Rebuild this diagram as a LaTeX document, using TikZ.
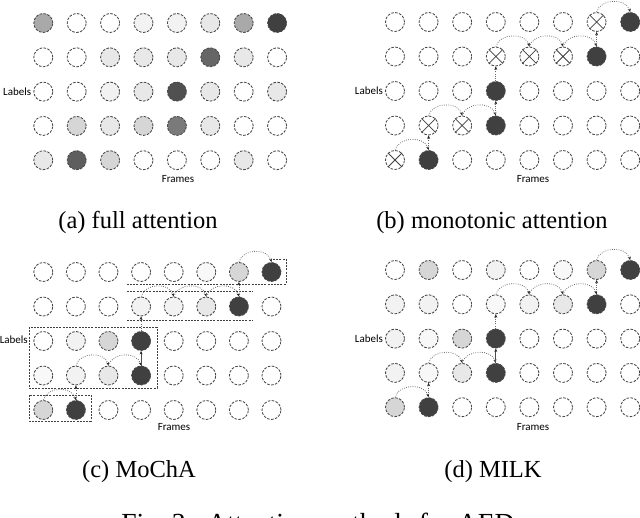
\documentclass[tikz,border=0pt]{standalone}
\usepackage{fontspec}
\setmainfont{Liberation Serif}
\newfontfamily\labfont{Carlito}
\usetikzlibrary{arrows.meta,fit}
\definecolor{gw}{HTML}{FFFFFF}
\definecolor{g0}{HTML}{F8F8F8}
\definecolor{g1}{HTML}{F2F2F2}
\definecolor{g2}{HTML}{E8E8E8}
\definecolor{g3}{HTML}{D6D6D6}
\definecolor{g4}{HTML}{A9A9A9}
\definecolor{g5}{HTML}{7A7A7A}
\definecolor{d1}{HTML}{505050}
\definecolor{d2}{HTML}{666666}
\definecolor{d3}{HTML}{5E5E5E}
\definecolor{gk}{HTML}{404040}
\newcommand\myarc[2]{\draw[arr] (#1.north) .. controls +(4,-14) and +(-4,-14) .. (#2.north);}
\newcommand\myup[2]{\draw[arr] (#1.north) -- (#2.south);}
\begin{document}
\begin{tikzpicture}[x=1pt,y=-1pt,
  cir/.style={circle,draw=black!72,line width=0.85pt,dash pattern=on 2.6pt off 1.4pt,minimum size=19pt,inner sep=0pt},
  arr/.style={draw=black!60,line width=0.75pt,dash pattern=on 0.8pt off 1.4pt,-{Stealth[length=3.5pt,width=3pt,black!85]}},
  sarr/.style={draw=black!70,line width=0.8pt,-{Stealth[length=3.5pt,width=3pt,black!85]}},
  xl/.style={draw=black!75,line width=0.75pt},
  box/.style={draw=black!75,line width=0.75pt,dash pattern=on 2pt off 1.2pt},
  lab/.style={font={\labfont\fontsize{11}{13}\selectfont},inner sep=0pt},
  captxt/.style={font={\fontsize{24.5}{28}\selectfont},inner sep=0pt},
  figtxt/.style={font={\fontsize{27.6}{32}\selectfont},inner sep=0pt}]
\useasboundingbox (0,0) rectangle (640,518);
\clip (0,0) rectangle (640,518);

% (a) full attention
\foreach \row [count=\r] in {{g4,gw,gw,g1,g1,g2,g4,gk},{gw,gw,g2,g2,g2,d2,g2,gw},{gw,gw,g1,g2,d1,g2,gw,g2},{gw,g3,g2,g3,g5,g2,gw,gw},{g2,d3,g3,gw,gw,gw,g2,gw}}{
  \foreach \f [count=\i] in \row {
    \node[cir,fill=\f] (a-\r-\i) at ({43.3+33.4*(\i-1)},{23+34.3*(\r-1)}) {};
  }
}
\node[lab,anchor=east] (la) at ([xshift=-2pt]a-3-1.west) {Labels};
\node[lab] (fa) at (178,179) {Frames};

% (b) monotonic attention
\foreach \row [count=\r] in {{gw,gw,gw,gw,gw,gw,gw,gk},{gw,gw,gw,gw,gw,gw,gk,gw},{gw,gw,gw,gk,gw,gw,gw,gw},{gw,gw,gw,gk,gw,gw,gw,gw},{gw,gk,gw,gw,gw,gw,gw,gw}}{
  \foreach \f [count=\i] in \row {
    \node[cir,fill=\f] (b-\r-\i) at ({395+33.6*(\i-1)},{22+34.5*(\r-1)}) {};
  }
}
\foreach \n in {b-1-7,b-2-4,b-2-5,b-2-6,b-4-2,b-4-3,b-5-1}{
  \draw[xl] (\n.north west) -- (\n.south east) (\n.north east) -- (\n.south west);
}
\node[lab,anchor=east] (lb) at ([xshift=-2pt]b-3-1.west) {Labels};
\node[lab] (fb) at (533,179) {Frames};
\myarc{b-5-1}{b-5-2}
\myup{b-5-2}{b-4-2}
\myarc{b-4-2}{b-4-3}
\myarc{b-4-3}{b-4-4}
\myup{b-4-4}{b-3-4}
\myup{b-3-4}{b-2-4}
\myarc{b-2-4}{b-2-5}
\myarc{b-2-5}{b-2-6}
\myarc{b-2-6}{b-2-7}
\myup{b-2-7}{b-1-7}
\myarc{b-1-7}{b-1-8}

% (c) MoChA
\foreach \row [count=\r] in {{gw,gw,gw,gw,gw,g0,g3,gk},{gw,gw,gw,g1,g1,g2,gk,gw},{gw,g1,g3,gk,gw,gw,gw,gw},{g0,g1,g2,gk,gw,gw,gw,gw},{g3,gk,gw,gw,gw,gw,gw,gw}}{
  \foreach \f [count=\i] in \row {
    \node[cir,fill=\f] (c-\r-\i) at ({43.3+32.6*(\i-1)},{272+34.5*(\r-1)}) {};
  }
}
% chunk frames
\draw[box] (273,259) -- (286,259) -- (286,284) -- (127,284);
\draw[box] (127,291) -- (252,291);
\draw[box] (127,320) -- (252,320);
\draw[box] (29,327) rectangle (157,388);
\draw[box] (29,395) rectangle (91,421);
\node[lab,anchor=east] (lc) at (28,340) {Labels};
\node[lab] (fc) at (174,427) {Frames};
\myarc{c-5-1}{c-5-2}
\myup{c-5-2}{c-4-2}
\myarc{c-4-2}{c-4-3}
\myarc{c-4-3}{c-4-4}
\draw[sarr] (c-4-4.north) -- (c-3-4.south);
\myup{c-3-4}{c-2-4}
\myarc{c-2-4}{c-2-5}
\myarc{c-2-5}{c-2-6}
\myarc{c-2-6}{c-2-7}
\myup{c-2-7}{c-1-7}
\myarc{c-1-7}{c-1-8}

% (d) MILK
\foreach \row [count=\r] in {{gw,g3,gw,g1,gw,g0,g3,gk},{g1,g1,gw,g0,g1,g2,gk,gw},{g1,g0,g3,gk,gw,gw,gw,gw},{g1,g0,g2,gk,gw,gw,gw,gw},{g3,gk,gw,gw,gw,gw,gw,gw}}{
  \foreach \f [count=\i] in \row {
    \node[cir,fill=\f] (d-\r-\i) at ({395+33.6*(\i-1)},{270+34.3*(\r-1)}) {};
  }
}
\node[lab,anchor=east] (ld) at ([xshift=-2pt]d-3-1.west) {Labels};
\node[lab] (fd) at (533,427) {Frames};
\myarc{d-5-1}{d-5-2}
\myup{d-5-2}{d-4-2}
\myarc{d-4-2}{d-4-3}
\myarc{d-4-3}{d-4-4}
\draw[sarr] (d-4-4.north) -- (d-3-4.south);
\myup{d-3-4}{d-2-4}
\myarc{d-2-4}{d-2-5}
\myarc{d-2-5}{d-2-6}
\myarc{d-2-6}{d-2-7}
\myup{d-2-7}{d-1-7}
\myarc{d-1-7}{d-1-8}

% captions
\node[captxt,anchor=base] (capa) at (138,229) {(a) full attention};
\node[captxt,anchor=base] (capb) at (492,229) {(b) monotonic attention};
\node[captxt,anchor=base] (capc) at (139,477) {(c) MoChA};
\node[captxt,anchor=base] (capd) at (493,477) {(d) MILK};
\node[figtxt,anchor=base] (fig) at (318,532) {Fig.~3:\ \ Attention methods for AED};
\end{tikzpicture}
\end{document}
